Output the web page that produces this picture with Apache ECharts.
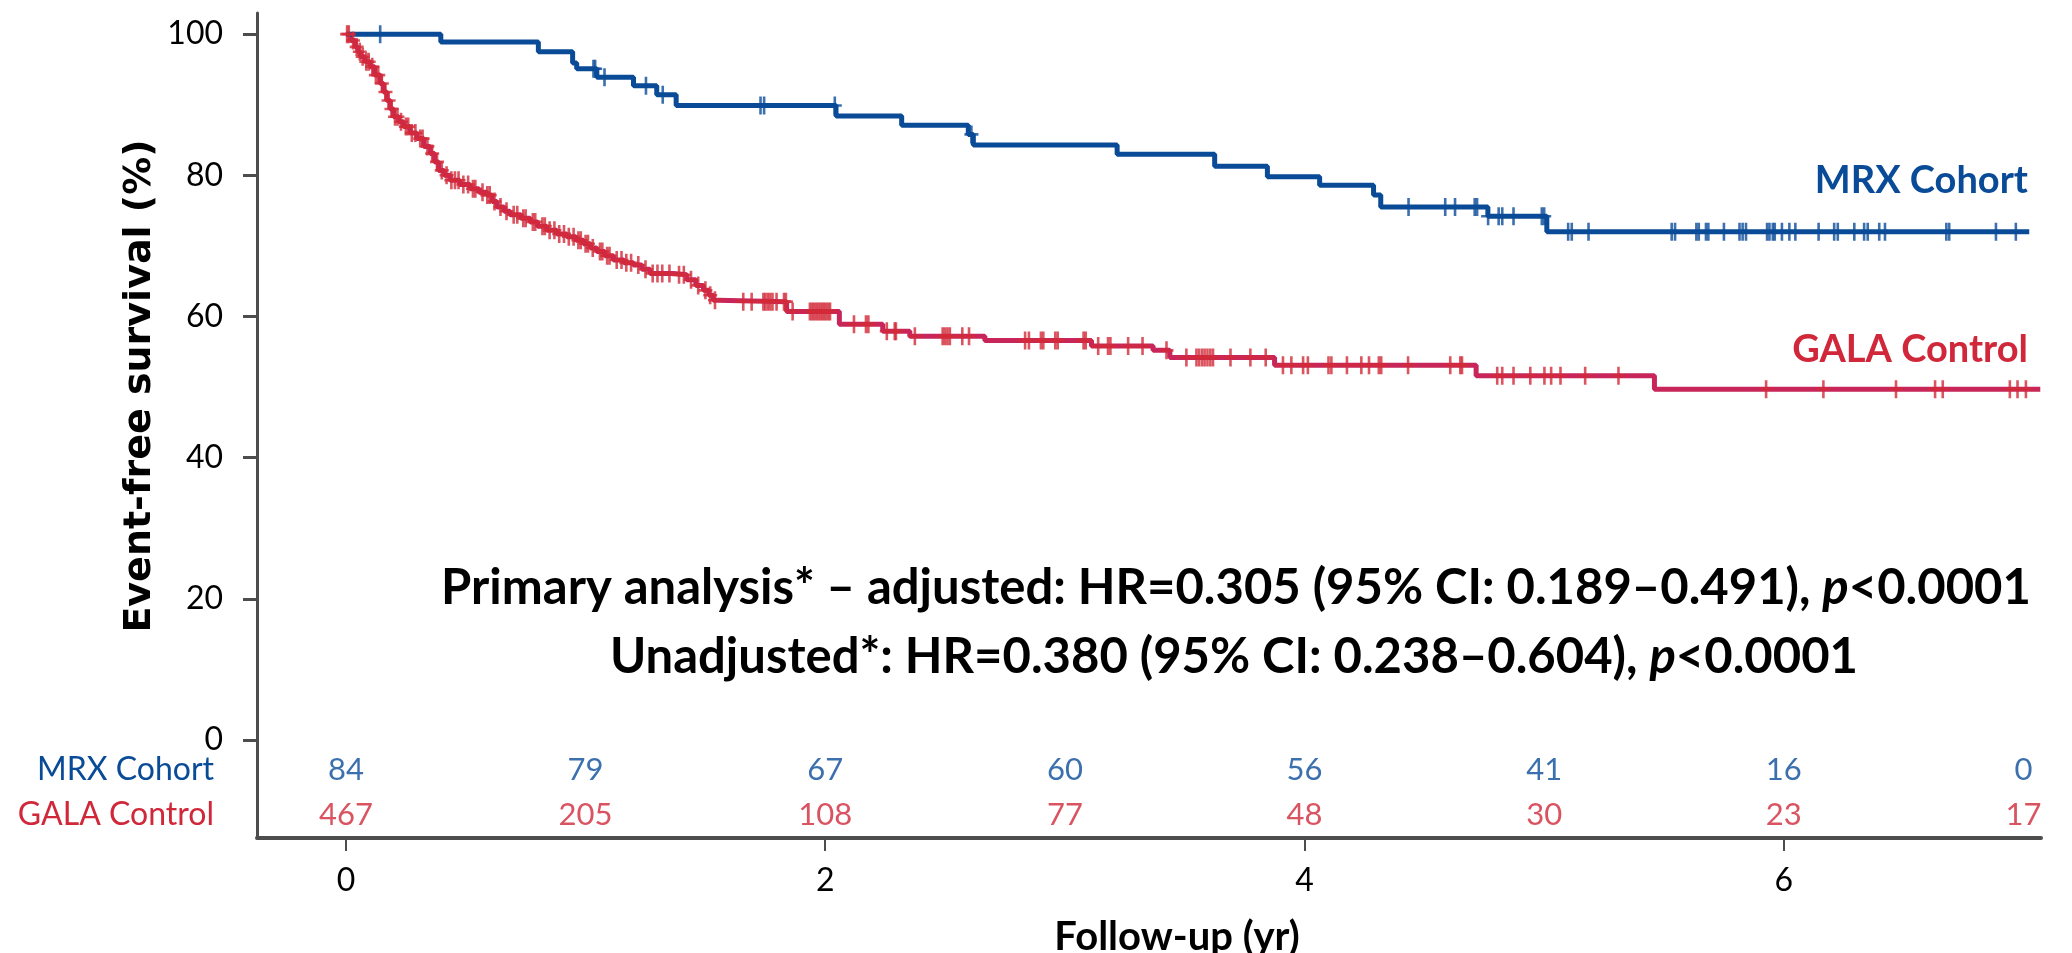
<!DOCTYPE html>
<html><head><meta charset="utf-8">
<script src="https://cdn.jsdelivr.net/npm/echarts@6/dist/echarts.min.js"></script>
<style>html,body{margin:0;padding:0;background:#fff}#c{width:2072px;height:953px}</style>
</head><body><div id="c"></div>
<script>
// ---- data ----
const mrxSteps = [[0,100],[0.396,98.9],[0.803,97.5],[0.946,95.9],[0.963,95.1],[1.047,93.9],[1.2,92.7],[1.297,91.4],[1.378,89.9],[2.045,88.4],[2.319,87.1],[2.597,85.8],[2.618,84.3],[3.218,83.0],[3.625,81.3],[3.845,79.8],[4.063,78.6],[4.288,77.2],[4.318,75.5],[4.765,74.2],[5.011,72.0],[7.024,72.0]];
const galaSteps = [[0,100],[0.02,99.1],[0.039,98.2],[0.05,97.5],[0.06,96.8],[0.08,96.1],[0.101,95.4],[0.12,94.2],[0.143,93.0],[0.157,91.8],[0.171,90.6],[0.185,89.4],[0.199,88.3],[0.22,87.6],[0.24,86.9],[0.268,86.0],[0.296,85.2],[0.325,84.1],[0.352,83.1],[0.37,81.9],[0.387,80.7],[0.41,80.0],[0.435,79.3],[0.475,78.7],[0.518,78.1],[0.555,77.6],[0.588,77.2],[0.61,76.3],[0.63,75.5],[0.66,74.9],[0.685,74.4],[0.73,73.9],[0.769,73.4],[0.80,72.8],[0.838,72.2],[0.88,71.7],[0.922,71.3],[0.96,70.8],[0.991,70.3],[1.02,69.7],[1.047,69.2],[1.08,68.6],[1.116,68.0],[1.16,67.6],[1.2,67.3],[1.235,66.7],[1.269,66.1],[1.367,65.9],[1.422,65.2],[1.46,64.4],[1.492,63.7],[1.515,63.0],[1.533,62.3],[1.55,62.1],[1.839,60.7],[2.059,58.9],[2.24,57.9],[2.353,57.2],[2.666,56.6],[3.111,55.8],[3.368,55.2],[3.438,54.2],[3.875,53.1],[4.716,51.6],[5.46,49.7],[7.07,49.7]];
const mrxCensor = [0.143,1.033,1.04,1.079,1.252,1.322,1.73,1.745,2.04,2.61,4.434,4.587,4.628,4.71,4.72,4.766,4.81,4.825,4.872,4.99,5.0,5.10,5.115,5.185,5.532,5.546,5.635,5.645,5.675,5.685,5.75,5.815,5.828,5.842,5.93,5.94,5.954,5.962,5.992,6.023,6.048,6.145,6.21,6.225,6.294,6.335,6.35,6.398,6.422,6.678,6.69,6.885,6.968];
const galaCensor = [0.005,0.012,0.03,0.045,0.058,0.07,0.085,0.095,0.11,0.125,0.135,0.15,0.165,0.178,0.19,0.205,0.215,0.23,0.25,0.26,0.275,0.29,0.31,0.32,0.34,0.36,0.38,0.40,0.42,0.44,0.455,0.47,0.49,0.51,0.53,0.54,0.57,0.59,0.60,0.62,0.645,0.67,0.70,0.715,0.74,0.75,0.78,0.79,0.82,0.83,0.85,0.87,0.89,0.91,0.93,0.95,0.97,0.98,1.0,1.01,1.03,1.06,1.07,1.09,1.10,1.13,1.15,1.17,1.19,1.22,1.25,1.28,1.30,1.32,1.35,1.39,1.41,1.44,1.47,1.50,1.52,1.54,1.658,1.693,1.742,1.75,1.76,1.77,1.78,1.797,1.828,1.836,1.864,1.936,1.945,1.953,1.962,1.97,1.979,1.987,1.995,2.003,2.012,2.02,2.12,2.17,2.18,2.257,2.29,2.295,2.374,2.49,2.50,2.51,2.52,2.572,2.6,2.834,2.85,2.9,2.91,2.96,2.97,3.078,3.087,3.139,3.18,3.19,3.264,3.324,3.424,3.507,3.549,3.56,3.572,3.583,3.595,3.607,3.618,3.691,3.774,3.838,3.91,3.945,3.994,4.014,4.10,4.112,4.177,4.237,4.269,4.31,4.32,4.432,4.608,4.65,4.657,4.804,4.825,4.872,4.942,5.001,5.029,5.068,5.171,5.31,5.926,6.165,6.468,6.631,6.663,6.943,6.975,7.01];
const riskTimes = [0,1,2,3,4,5,6,7];
const mrxAtRisk = [84,79,67,60,56,41,16,0];
const galaAtRisk = [467,205,108,77,48,30,23,17];
const yTickValues = [0,20,40,60,80,100];
const xTickValues = [0,2,4,6];
const groupNames = ['MRX Cohort','GALA Control'];

// ---- styling ----
const BLUE = '#0a4b98', RED_LINE = '#c8265a', RED_MARK = '#d22a38', RED_TEXT = '#d0283a';
const AXIS = '#4d4d4d';
const FONT = 'Lato';
const PLUS = 'path://M-1.3,-9L1.3,-9L1.3,-1.3L7,-1.3L7,1.3L1.3,1.3L1.3,9L-1.3,9L-1.3,1.3L-7,1.3L-7,-1.3L-1.3,-1.3Z';
const ROW1_Y = -4.25, ROW2_Y = -10.6; // at-risk rows placed below 0 inside the plot frame

function survAt(steps, t) {
  let v = steps[0][1];
  for (const s of steps) { if (s[0] <= t + 1e-9) v = s[1]; else break; }
  return v;
}
const mrxCensorPts = mrxCensor.map(t => [t, survAt(mrxSteps, t)]);
const galaCensorPts = galaCensor.map(t => [t, survAt(galaSteps, t)]);

const chart = echarts.init(document.getElementById('c'), null, {renderer: 'canvas'});
const riskLabel = (color) => ({show: true, position: 'inside', color: color, fontFamily: FONT, fontSize: 31,
  formatter: p => String(p.data[2])});
const annoRich = {i: {fontStyle: 'italic', fontWeight: 'bold', fontFamily: FONT, fontSize: 49, fill: '#000'}};

chart.setOption({
  animation: false,
  backgroundColor: '#fff',
  grid: {left: 257, right: 31, top: 13, bottom: 115, containLabel: false, outerBoundsMode: 'none'},
  xAxis: {
    type: 'value', min: -0.371, max: 7.073,
    axisLine: {show: true, onZero: false, lineStyle: {color: AXIS, width: 4}},
    axisTick: {show: true, customValues: xTickValues, length: 13, lineStyle: {color: AXIS, width: 2}},
    axisLabel: {customValues: xTickValues, margin: 27, color: '#000', fontFamily: FONT, fontSize: 32},
    splitLine: {show: false}
  },
  yAxis: {
    type: 'value', min: -13.9, max: 103,
    axisLine: {show: true, onZero: false, lineStyle: {color: AXIS, width: 3}},
    axisTick: {show: true, customValues: yTickValues, length: 14, lineStyle: {color: AXIS, width: 3}},
    axisLabel: {customValues: yTickValues, margin: 34, color: '#000', fontFamily: FONT, fontSize: 32},
    splitLine: {show: false}
  },
  series: [
    {type: 'line', step: 'end', data: galaSteps, showSymbol: false, lineStyle: {color: RED_LINE, width: 5}, z: 2},
    {type: 'line', step: 'end', data: mrxSteps, showSymbol: false, lineStyle: {color: BLUE, width: 5}, z: 3},
    {type: 'scatter', data: galaCensorPts, symbol: PLUS, symbolSize: [14, 18], itemStyle: {color: RED_MARK}, z: 4},
    {type: 'scatter', data: mrxCensorPts, symbol: PLUS, symbolSize: [14, 18], itemStyle: {color: BLUE}, z: 5},
    {type: 'scatter', data: riskTimes.map((t, i) => [t, ROW1_Y, mrxAtRisk[i]]), symbolSize: 1,
      itemStyle: {color: 'rgba(0,0,0,0)'}, label: riskLabel(BLUE), z: 6},
    {type: 'scatter', data: riskTimes.map((t, i) => [t, ROW2_Y, galaAtRisk[i]]), symbolSize: 1,
      itemStyle: {color: 'rgba(0,0,0,0)'}, label: riskLabel(RED_TEXT), z: 6}
  ],
  graphic: [
    {type: 'text', x: 140, y: 386, rotation: Math.PI / 2,
      style: {text: 'Event-free survival (%)', fontFamily: 'DejaVu Sans', fontWeight: 'bold', fontSize: 38,
        fill: '#000', align: 'center', verticalAlign: 'middle'}},
    {type: 'text', x: 1177, y: 937,
      style: {text: 'Follow-up (yr)', fontFamily: FONT, fontWeight: 'bold', fontSize: 40,
        fill: '#000', align: 'center', verticalAlign: 'middle'}},
    {type: 'text', x: 2028, y: 181,
      style: {text: groupNames[0], fontFamily: FONT, fontWeight: 'bold', fontSize: 38,
        fill: BLUE, align: 'right', verticalAlign: 'middle'}},
    {type: 'text', x: 2028, y: 350,
      style: {text: groupNames[1], fontFamily: FONT, fontWeight: 'bold', fontSize: 38,
        fill: RED_TEXT, align: 'right', verticalAlign: 'middle'}},
    {type: 'text', x: 214, y: 770,
      style: {text: groupNames[0], fontFamily: FONT, fontSize: 32, fill: BLUE, align: 'right', verticalAlign: 'middle'}},
    {type: 'text', x: 214, y: 815,
      style: {text: groupNames[1], fontFamily: FONT, fontSize: 32, fill: RED_TEXT, align: 'right', verticalAlign: 'middle'}},
    {type: 'text', x: 1236, y: 588,
      style: {text: 'Primary analysis* \u2013 adjusted: HR=0.305 (95% CI: 0.189\u20130.491), {i|p}<0.0001',
        rich: annoRich, fontFamily: FONT, fontWeight: 'bold', fontSize: 49, fill: '#000', align: 'center', verticalAlign: 'middle'}},
    {type: 'text', x: 1234, y: 657,
      style: {text: 'Unadjusted*: HR=0.380 (95% CI: 0.238\u20130.604), {i|p}<0.0001',
        rich: annoRich, fontFamily: FONT, fontWeight: 'bold', fontSize: 49, fill: '#000', align: 'center', verticalAlign: 'middle'}}
  ]
});
</script>
</body></html>
